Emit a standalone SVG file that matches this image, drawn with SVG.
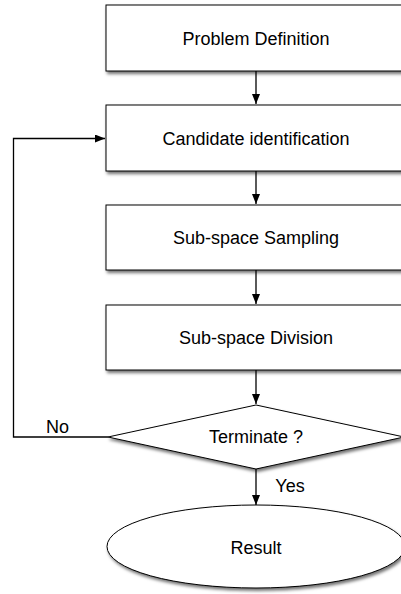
<svg xmlns="http://www.w3.org/2000/svg" width="401" height="594" viewBox="0 0 401 594">
<style>
.shape{fill:#fff;stroke:#000;stroke-width:1;filter:url(#sh)}
.lbl{font-family:"Liberation Sans",Arial,sans-serif;font-size:18px;fill:#000;text-anchor:middle}
.edge{fill:none;stroke:#000;stroke-width:1.3;marker-end:url(#ah)}
</style>
<defs>
<filter id="sh" x="-10%" y="-20%" width="125%" height="150%">
<feDropShadow dx="1.5" dy="2.5" stdDeviation="1.5" flood-color="#000" flood-opacity="0.55"/>
</filter>
<marker id="ah" viewBox="0 0 10 8" refX="10" refY="4" markerWidth="10" markerHeight="8" markerUnits="userSpaceOnUse" orient="auto">
<path d="M0,0 L10,4 L0,8 z" fill="#000"/>
</marker>
</defs>
<g id="n1"><rect class="shape" x="106" y="5" width="300" height="66"/><text class="lbl" x="256" y="45">Problem Definition</text></g>
<g id="n2"><rect class="shape" x="106" y="105" width="300" height="66"/><text class="lbl" x="256" y="144.5">Candidate identification</text></g>
<g id="n3"><rect class="shape" x="106" y="205" width="300" height="65"/><text class="lbl" x="256" y="244">Sub-space Sampling</text></g>
<g id="n4"><rect class="shape" x="106" y="305" width="300" height="65"/><text class="lbl" x="256" y="344">Sub-space Division</text></g>
<g id="n5"><polygon class="shape" points="256,405 404,437 256,469 108,437"/><text class="lbl" x="256" y="443">Terminate ?</text></g>
<g id="n6"><ellipse class="shape" cx="256" cy="546.5" rx="149" ry="41.5"/><text class="lbl" x="256" y="554">Result</text></g>
<g id="connectors">
<path class="edge" d="M256,71 V104"/>
<path class="edge" d="M256,171 V204"/>
<path class="edge" d="M256,270 V304"/>
<path class="edge" d="M256,370 V404"/>
<path class="edge" d="M256,469 V505"/>
<path class="edge" d="M108,437 H13.5 V138.5 H105"/>
<text class="lbl" x="57.5" y="433">No</text>
<text class="lbl" x="290" y="492">Yes</text>
</g>
</svg>
